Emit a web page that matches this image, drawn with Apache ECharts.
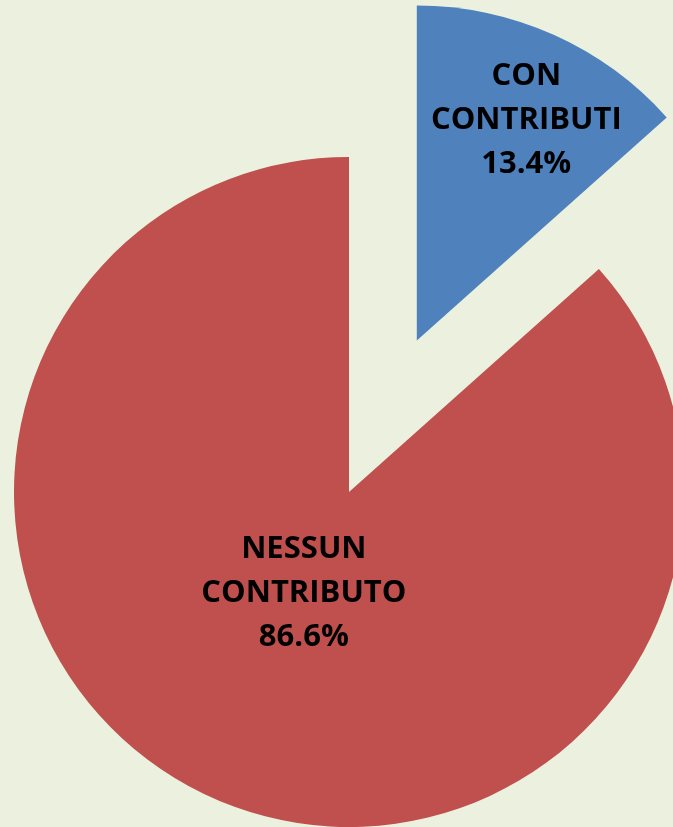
<!DOCTYPE html>
<html>
<head>
<meta charset="utf-8">
<script src="https://cdn.jsdelivr.net/npm/echarts@6/dist/echarts.min.js"></script>
<style>
  html, body { margin: 0; padding: 0; background: #EBF1DE; }
  #chart { width: 673px; height: 827px; }
</style>
</head>
<body>
<div id="chart"></div>
<script>
// dati del grafico
const categories = ['CON CONTRIBUTI', 'NESSUN CONTRIBUTO'];
const percentages = [13.4, 86.6];
const colors = ['#4F81BD', '#C0504D'];

// spostamento delle etichette (px) rispetto alla posizione "inside": radiale e tangenziale
const labelRadial = [75, -60];
const labelTangential = [10, 0];

const total = percentages.reduce((a, b) => a + b, 0);
const midAngles = [];
let acc = 0;
percentages.forEach(v => {
  midAngles.push((acc + v / 2) / total * 2 * Math.PI);
  acc += v;
});

const chart = echarts.init(document.getElementById('chart'));

chart.setOption({
  backgroundColor: '#EBF1DE',
  animation: false,
  series: [{
    type: 'pie',
    center: [349, 492],
    radius: 335,
    startAngle: 90,
    clockwise: true,
    percentPrecision: 1,
    selectedMode: 'single',
    selectedOffset: 166,
    emphasis: { disabled: true },
    label: {
      position: 'inside',
      color: '#000',
      fontFamily: 'Open Sans',
      fontWeight: 'bold',
      fontSize: 31,
      lineHeight: 44,
      formatter: p => p.name.replace(' ', '\n') + '\n' + p.percent.toFixed(1) + '%'
    },
    labelLine: { show: false },
    labelLayout: params => {
      const i = params.dataIndex;
      const s = Math.sin(midAngles[i]);
      const c = Math.cos(midAngles[i]);
      return {
        dx: labelRadial[i] * s + labelTangential[i] * c,
        dy: -labelRadial[i] * c + labelTangential[i] * s
      };
    },
    data: categories.map((name, i) => ({
      name: name,
      value: percentages[i],
      selected: i === 0,
      itemStyle: { color: colors[i] }
    }))
  }]
});
</script>
</body>
</html>
